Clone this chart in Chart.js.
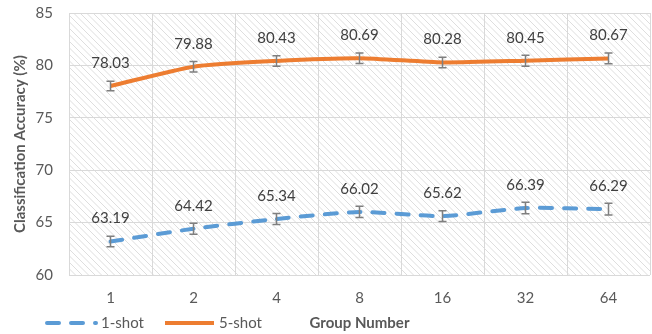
<!DOCTYPE html>
<html>
<head>
<meta charset="utf-8">
<script src="https://cdn.jsdelivr.net/npm/chart.js@4/dist/chart.umd.min.js"></script>
<style>
  html, body { margin: 0; padding: 0; background: #ffffff; }
  #wrap { width: 652px; height: 334px; position: relative; }
  canvas { display: block; }
</style>
</head>
<body>
<div id="wrap"><canvas id="c" width="652" height="334"></canvas></div>
<script>
// Group sizes on the x axis
const categories = ['1', '2', '4', '8', '16', '32', '64'];
// Mean classification accuracy (%)
const oneShot = [63.19, 64.42, 65.34, 66.02, 65.62, 66.39, 66.29];
const fiveShot = [78.03, 79.88, 80.43, 80.69, 80.28, 80.45, 80.67];
// Half-width of the error bars (%)
const oneShotErr = [0.50, 0.52, 0.52, 0.54, 0.52, 0.54, 0.56];
const fiveShotErr = [0.45, 0.50, 0.50, 0.50, 0.50, 0.52, 0.52];
// Y axis ticks
const yTicks = [60, 65, 70, 75, 80, 85];

const FONT = 'Lato, "Liberation Sans", sans-serif';
const BLUE = '#5b9bd5';
const ORANGE = '#ed7d31';

// Diagonal hatch fill behind the plot area
const hatchPlugin = {
  id: 'hatch',
  beforeDraw(chart) {
    const { ctx, chartArea: a } = chart;
    ctx.save();
    ctx.beginPath();
    ctx.rect(a.left, a.top, a.right - a.left, a.bottom - a.top);
    ctx.clip();
    ctx.strokeStyle = '#dedede';
    ctx.lineWidth = 1;
    const h = a.bottom - a.top;
    ctx.beginPath();
    for (let x = a.left - h; x < a.right + 2; x += 6.5) {
      ctx.moveTo(x, a.top);
      ctx.lineTo(x + h, a.bottom);
    }
    ctx.stroke();
    ctx.restore();
  }
};

// Error bars and value labels, positioned through the chart scales
const annotatePlugin = {
  id: 'annotate',
  afterDatasetsDraw(chart) {
    const { ctx } = chart;
    const xs = chart.scales.x, ys = chart.scales.y;
    const sets = [
      { vals: oneShot, errs: oneShotErr },
      { vals: fiveShot, errs: fiveShotErr }
    ];
    ctx.save();
    sets.forEach(s => {
      s.vals.forEach((v, i) => {
        const x = xs.getPixelForValue(i);
        const yHi = ys.getPixelForValue(v + s.errs[i]);
        const yLo = ys.getPixelForValue(v - s.errs[i]);
        ctx.strokeStyle = '#7f7f7f';
        ctx.lineWidth = 1.5;
        ctx.beginPath();
        ctx.moveTo(x, yHi); ctx.lineTo(x, yLo);
        ctx.moveTo(x - 4, yHi); ctx.lineTo(x + 4, yHi);
        ctx.moveTo(x - 4, yLo); ctx.lineTo(x + 4, yLo);
        ctx.stroke();
      });
    });
    ctx.fillStyle = '#404040';
    ctx.font = '15px ' + FONT;
    ctx.textAlign = 'center';
    ctx.textBaseline = 'middle';
    sets.forEach(s => {
      s.vals.forEach((v, i) => {
        const x = xs.getPixelForValue(i);
        const y = ys.getPixelForValue(v);
        ctx.fillText(v.toFixed(2), x, y - 23);
      });
    });
    ctx.restore();
  }
};

// Legend row on the left of the axis title line
const legendPlugin = {
  id: 'bottomLegend',
  afterDraw(chart) {
    const { ctx } = chart;
    const y = 323;
    ctx.save();
    ctx.lineWidth = 4;
    ctx.strokeStyle = BLUE;
    ctx.lineCap = 'round';
    ctx.setLineDash([12, 12]);
    ctx.beginPath(); ctx.moveTo(47, y); ctx.lineTo(96, y); ctx.stroke();
    ctx.setLineDash([]);
    ctx.lineCap = 'butt';
    ctx.strokeStyle = ORANGE;
    ctx.beginPath(); ctx.moveTo(165, y); ctx.lineTo(214, y); ctx.stroke();
    ctx.fillStyle = '#595959';
    ctx.font = '15px ' + FONT;
    ctx.textAlign = 'left';
    ctx.textBaseline = 'middle';
    ctx.fillText(chart.data.datasets[0].label, 101, y);
    ctx.fillText(chart.data.datasets[1].label, 219, y);
    ctx.restore();
  }
};

new Chart(document.getElementById('c'), {
  type: 'line',
  data: {
    labels: categories,
    datasets: [
      {
        label: '1-shot',
        data: oneShot,
        borderColor: BLUE,
        borderWidth: 4,
        borderDash: [12, 12],
        borderCapStyle: 'round',
        pointRadius: 0,
        tension: 0.2,
        fill: false
      },
      {
        label: '5-shot',
        data: fiveShot,
        borderColor: ORANGE,
        borderWidth: 4,
        pointRadius: 0,
        tension: 0.2,
        fill: false
      }
    ]
  },
  options: {
    responsive: false,
    maintainAspectRatio: false,
    animation: false,
    devicePixelRatio: 1,
    layout: { padding: { left: 0, right: 2, top: 13, bottom: 0 } },
    plugins: {
      legend: { display: false },
      tooltip: { enabled: false }
    },
    scales: {
      x: {
        offset: true,
        grid: { offset: true, color: '#d9d9d9', drawTicks: false },
        border: { display: false },
        ticks: { color: '#595959', font: { family: FONT, size: 15 }, padding: 14 },
        title: {
          display: true,
          text: 'Group Number',
          color: '#595959',
          font: { family: FONT, size: 15, weight: 'bold' },
          padding: { top: 4, bottom: 2 }
        },
        afterFit(scale) {
          scale.height = 59;
          scale.paddingLeft = 0;
          scale.paddingRight = 0;
        }
      },
      y: {
        min: 60,
        max: 85,
        afterBuildTicks(scale) { scale.ticks = yTicks.map(v => ({ value: v })); },
        grid: { color: '#d9d9d9', drawTicks: false },
        border: { display: false },
        ticks: { color: '#595959', font: { family: FONT, size: 15 }, padding: 16 },
        title: {
          display: true,
          text: 'Classification Accuracy (%)',
          color: '#595959',
          font: { family: FONT, size: 15, weight: 'bold' },
          padding: { top: 11, bottom: 0 }
        },
        afterFit(scale) {
          scale.width = 69;
          scale.paddingTop = 0;
          scale.paddingBottom = 0;
        }
      }
    }
  },
  plugins: [hatchPlugin, annotatePlugin, legendPlugin]
});
</script>
</body>
</html>
